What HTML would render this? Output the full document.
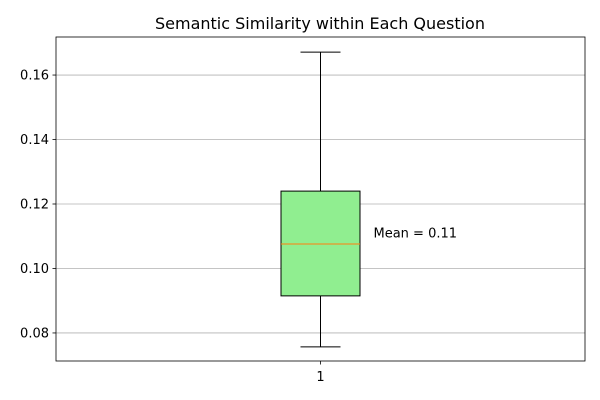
<!DOCTYPE html>
<html><head><meta charset="utf-8"><style>
body{margin:0;background:#fff;}
svg{display:block;font-family:"DejaVu Sans","Liberation Sans",sans-serif;}
</style></head><body>
<svg id="chart" width="600" height="400"></svg>
<script>
const categories=["1"];
const whiskerLow=[0.0757];
const q1Values=[0.0915];
const medianValues=[0.1076];
const q3Values=[0.1240];
const whiskerHigh=[0.1671];
const meanLabels=["Mean = 0.11"];
const meanValues=[0.1101];
const yTicks=[0.08,0.10,0.12,0.14,0.16];
const yTickLabels=["0.08","0.10","0.12","0.14","0.16"];

const L=56,R=585,T=37,B=361,yMin=0.0713,yMax=0.1718;
const y=v=>B-(v-yMin)/(yMax-yMin)*(B-T);
const x=i=>L+(i+0.5)*(R-L)/categories.length;
const svg=document.getElementById('chart');
const NS='http://www.w3.org/2000/svg';
function mk(t,a,txt){const e=document.createElementNS(NS,t);for(const k in a)e.setAttribute(k,a[k]);if(txt!==undefined)e.textContent=txt;svg.appendChild(e);return e;}

let e=mk('text',{x:320,y:29,'text-anchor':'middle','font-size':16,fill:'#000'},'Semantic Similarity within Each Question');



yTicks.forEach((t,i)=>{
 const yy=y(t);
 let g=mk('line',{x1:L,x2:R,y1:yy,y2:yy,stroke:'#b0b0b0','stroke-width':0.8});
 
 
 let tk=mk('line',{x1:L-3.5,x2:L,y1:yy,y2:yy,stroke:'#000','stroke-width':0.8});
 
 
 let lb=mk('text',{x:L-7,y:yy+4.5,'text-anchor':'end','font-size':13,fill:'#000'},yTickLabels[i]);
 
 
});

categories.forEach((c,i)=>{
 const cx=x(i),hw=39.5,cw=20;
 let w1=mk('line',{x1:cx,x2:cx,y1:y(q3Values[i]),y2:y(whiskerHigh[i]),stroke:'#000','stroke-width':1});
 
 
 let w2=mk('line',{x1:cx,x2:cx,y1:y(q1Values[i]),y2:y(whiskerLow[i]),stroke:'#000','stroke-width':1});
 
 
 let c1=mk('line',{x1:cx-cw,x2:cx+cw,y1:y(whiskerHigh[i]),y2:y(whiskerHigh[i]),stroke:'#000','stroke-width':1});
 
 
 let c2=mk('line',{x1:cx-cw,x2:cx+cw,y1:y(whiskerLow[i]),y2:y(whiskerLow[i]),stroke:'#000','stroke-width':1});
 
 
 let bx=mk('rect',{x:cx-hw,y:y(q3Values[i]),width:2*hw,height:y(q1Values[i])-y(q3Values[i]),fill:'#90ee90',stroke:'#000','stroke-width':1});
 
 
 let md=mk('line',{x1:cx-hw,x2:cx+hw,y1:y(medianValues[i]),y2:y(medianValues[i]),stroke:'#ff7f0e','stroke-width':1});
 
 
 let mt=mk('text',{x:cx+53,y:y(meanValues[i])+1.5,'font-size':13,fill:'#000'},meanLabels[i]);
 
 
 let xt=mk('line',{x1:cx,x2:cx,y1:B,y2:B+3.5,stroke:'#000','stroke-width':0.8});
 
 
 let xl=mk('text',{x:cx,y:B+20,'text-anchor':'middle','font-size':13,fill:'#000'},c);
 
 
});

let fr=mk('rect',{x:L,y:T,width:R-L,height:B-T,fill:'none',stroke:'#000','stroke-width':0.8});


</script>
</body></html>
